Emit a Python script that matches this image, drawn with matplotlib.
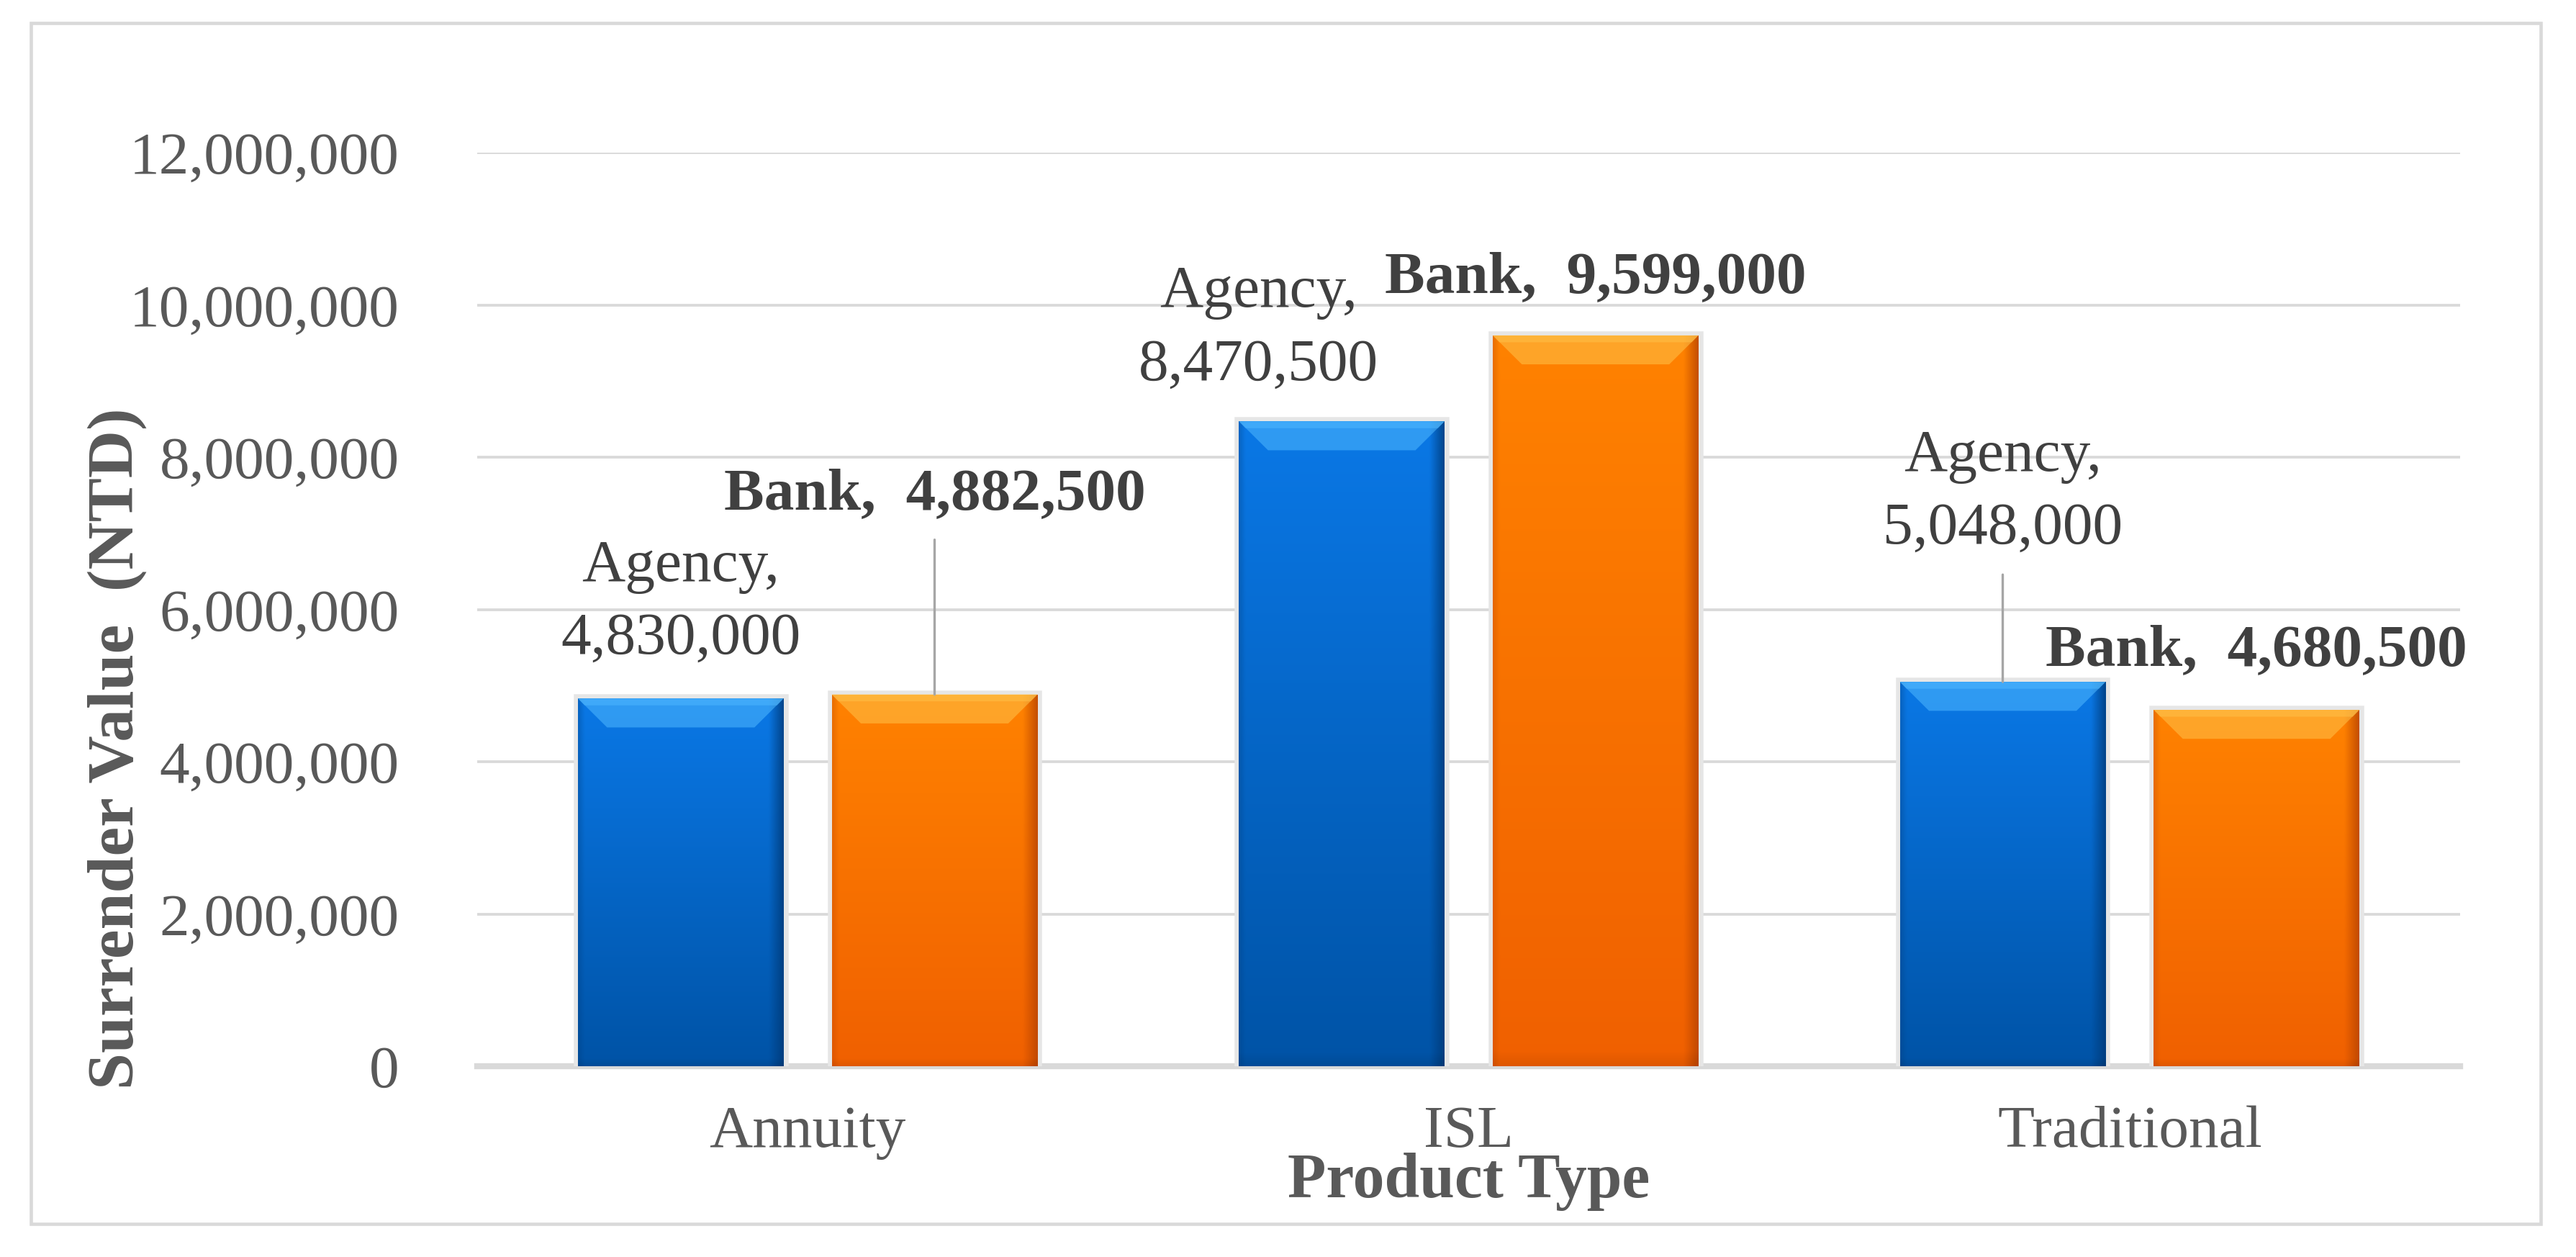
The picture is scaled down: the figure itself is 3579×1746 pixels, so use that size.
import numpy as np
import matplotlib.pyplot as plt
from matplotlib.patches import Polygon, Rectangle
from matplotlib.ticker import FuncFormatter
import matplotlib.patheffects as pe

categories = ["Annuity", "ISL", "Traditional"]
agency = [4830000, 8470500, 5048000]
bank = [4882500, 9599000, 4680500]
y_ticks = [0, 2000000, 4000000, 6000000, 8000000, 10000000, 12000000]

plt.rcParams['font.family'] = ['Liberation Serif', 'DejaVu Serif']

W, H = 3579, 1746
fig = plt.figure(figsize=(W / 300, H / 300), dpi=300)

# plot area in pixel units of the reference
left, right, top, bottom = 663, 3418, 212, 1481
ax = fig.add_axes([left / W, 1 - bottom / H, (right - left) / W, (bottom - top) / H])

# outer frame
fig.patches.append(Rectangle((43 / W, 1 - 1700 / H), (3530 - 43) / W, (1700 - 32) / H,
                             transform=fig.transFigure, fill=False,
                             edgecolor='#d9d9d9', linewidth=1.1))

x = np.arange(len(categories))
width = 0.311
offset = 0.192

bars_a = ax.bar(x - offset, agency, width, color='#0066cc', zorder=2)
bars_b = ax.bar(x + offset, bank, width, color='#ff7700', zorder=2)


def shade(bars, c_top, c_bot, c_edge, c_hi):
    c_top = np.array(plt.matplotlib.colors.to_rgb(c_top))
    c_bot = np.array(plt.matplotlib.colors.to_rgb(c_bot))
    c_edge = np.array(plt.matplotlib.colors.to_rgb(c_edge))
    n, m = 300, 120
    v = np.linspace(0, 1, n)[:, None, None]
    u = np.linspace(0, 1, m)[None, :, None]
    img = c_bot + (c_top - c_bot) * v
    img = np.broadcast_to(img, (n, m, 3)).copy()
    # darker right and left rims
    k_r = np.clip((u - 0.93) / 0.07, 0, 1) * 0.8
    k_l = np.clip((0.03 - u) / 0.03, 0, 1) * 0.3
    k_b = np.clip((0.02 - v) / 0.02, 0, 1) * 0.3
    k = np.clip(k_r + k_l + k_b, 0, 1)
    img = img * (1 - k) + c_edge * k
    for b in bars:
        b.set_path_effects([pe.withStroke(linewidth=3, foreground='#e6e6e6')])
        x0, w, h = b.get_x(), b.get_width(), b.get_height()
        im = ax.imshow(img, extent=[x0, x0 + w, 0, h], origin='lower',
                       aspect='auto', zorder=2.1, interpolation='bilinear')
        im.set_clip_path(b)
        bh = 380000
        ins = 0.044
        ax.add_patch(Polygon([(x0, h), (x0 + w, h), (x0 + w - ins, h - bh), (x0 + ins, h - bh)],
                             closed=True, facecolor=c_hi, edgecolor='none',
                             alpha=0.55, zorder=2.2))
        ax.add_patch(Polygon([(x0, h), (x0 + w, h), (x0 + w - 0.01, h - 90000), (x0 + 0.01, h - 90000)],
                             closed=True, facecolor=c_hi, edgecolor='none',
                             alpha=0.5, zorder=2.3))


shade(bars_a, '#0a78e6', '#0053a6', '#003a78', '#4fb8ff')
shade(bars_b, '#ff8200', '#f06000', '#b84400', '#ffc24a')

ax.set_xlim(-0.5, 2.5)
ax.set_ylim(0, 12000000)
ax.set_yticks(y_ticks)
ax.yaxis.set_major_formatter(FuncFormatter(lambda v, p: f"{v:,.0f}"))
ax.set_xticks(x)
ax.set_xticklabels(categories)
ax.tick_params(axis='y', length=0, pad=26, labelsize=20, labelcolor='#595959')
ax.tick_params(axis='x', length=0, pad=13, labelsize=20, labelcolor='#595959')
ax.grid(axis='y', color='#d9d9d9', linewidth=0.9, zorder=0)
ax.set_axisbelow(True)
for s in ['top', 'right', 'left']:
    ax.spines[s].set_visible(False)
ax.spines['bottom'].set_color('#d9d9d9')
ax.spines['bottom'].set_linewidth(2)
ax.spines['bottom'].set_zorder(1)

lead = dict(arrowstyle='-', color='#a6a6a6', lw=0.8, shrinkA=4, shrinkB=0)

# Agency labels: (dx, dy) pixel offsets from bar top to last-line baseline
agency_off = [(0, 62), (-116, 58), (0, 192)]
for i, v in enumerate(agency):
    dx, dy = agency_off[i]
    ax.annotate(f"Agency,\n{v:,}", xy=(x[i] - offset, v), xytext=(dx, dy),
                textcoords='offset pixels', ha='center', va='baseline',
                fontsize=20, color='#404040', linespacing=1.45, zorder=5,
                arrowprops=lead if i == 2 else None)

bank_off = [(0, 258), (0, 60), (0, 62)]
for i, v in enumerate(bank):
    dx, dy = bank_off[i]
    ax.annotate(f"Bank,  {v:,}", xy=(x[i] + offset, v), xytext=(dx, dy),
                textcoords='offset pixels', ha='center', va='baseline',
                fontsize=20, fontweight='bold', color='#404040', zorder=5,
                arrowprops=lead if i == 0 else None)

fig.text(163 / W, 1 - 1040 / H, "Surrender Value  (NTD)", rotation=90,
         ha='center', va='center', fontsize=22, fontweight='bold', color='#595959')
fig.text(2041 / W, 1 - 1663 / H, "Product Type", ha='center', va='baseline',
         fontsize=21, fontweight='bold', color='#595959')

fig.savefig('out.png', dpi=300, facecolor='white')
